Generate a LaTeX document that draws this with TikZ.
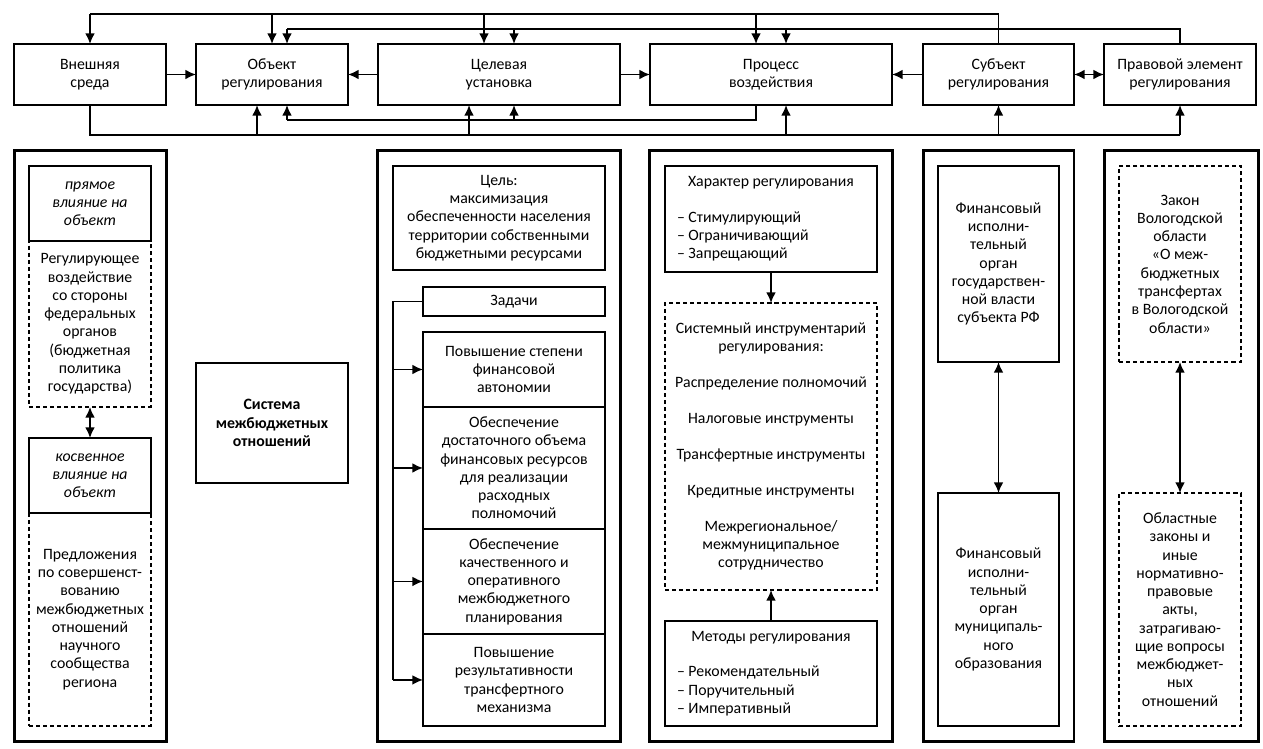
\documentclass[tikz,border=0pt]{standalone}
\usepackage{fontspec}
\setmainfont{Carlito}
\usetikzlibrary{arrows.meta}
\usetikzlibrary{positioning}

\tikzset{
  box/.style={draw, line width=0.85pt, align=center, inner sep=2pt, outer sep=0pt},
  topbox/.style={box, line width=0.9pt, minimum height=1.22cm},
  dbox/.style={box, dash pattern=on 2.3pt off 1.7pt},
  panel/.style={draw, line width=1.7pt, minimum height=11.84cm, outer sep=0pt},
  conn/.style={line width=1pt},
  arr/.style={conn, -{Latex[length=6pt,width=5.5pt]}},
  dblarr/.style={conn, {Latex[length=6pt,width=5.5pt]}-{Latex[length=6pt,width=5.5pt]}},
}
\newcommand{\litem}[1]{\makebox[3.76cm][l]{#1}}

\begin{document}
\begin{tikzpicture}[x=0.02cm, y=-0.02cm, font=\fontsize{9}{10.4}\selectfont]
    \useasboundingbox (0,0) rectangle (1263,749);

    % upper row
    \node[topbox, minimum width=3.04cm] (vnesh) at (90,74.5) {Внешняя\\среда};
    \node[topbox, minimum width=3.04cm] (obj) at (272,74.5) {Объект\\регулирования};
    \node[topbox, minimum width=4.84cm] (cel) at (499,74.5) {Целевая\\установка};
    \node[topbox, minimum width=4.84cm] (proc) at (771,74.5) {Процесс\\воздействия};
    \node[topbox, minimum width=3.02cm] (subj) at (998.5,74.5) {Субъект\\регулирования};
    \node[topbox, minimum width=3.04cm] (prav) at (1180,74.5) {Правовой элемент\\регулирования};

    \draw[arr] (vnesh) -- (obj);
    \draw[arr] (cel) -- (obj);
    \draw[arr] (cel) -- (proc);
    \draw[arr] (subj) -- (proc);
    \draw[dblarr] (subj) -- (prav);

    % feedback lines
    \coordinate (l1) at (0,14);
    \coordinate (l2) at (0,29);
    \coordinate (l3) at (0,120);
    \coordinate (l4) at (0,135);

    \draw[conn] (subj.north) -- (subj.north |- l1) -- (vnesh.north |- l1);
    \foreach \n/\s in {vnesh/0, obj/0, cel/-0.3, proc/-0.3}
        \draw[arr] ([xshift=\s cm]\n.north) ++(0,-30) -- ([xshift=\s cm]\n.north);

    \draw[conn] (prav.north) -- (prav.north |- l2) -- ([xshift=0.3cm]obj.north |- l2);
    \foreach \n in {obj, cel, proc}
        \draw[arr] ([xshift=0.3cm]\n.north) ++(0,-15) -- ([xshift=0.3cm]\n.north);

    \draw[conn] ([xshift=-0.3cm]proc.south) -- ([xshift=-0.3cm]proc.south |- l3) -- ([xshift=0.3cm]obj.south |- l3);
    \foreach \n in {obj, cel}
        \draw[arr] ([xshift=0.3cm]\n.south) ++(0,15) -- ([xshift=0.3cm]\n.south);

    \draw[conn] (vnesh.south) -- (vnesh.south |- l4) -- (prav.south |- l4);
    \foreach \n/\s in {obj/-0.3, cel/-0.6, proc/0.3, subj/0, prav/0}
        \draw[arr] ([xshift=\s cm]\n.south) ++(0,30) -- ([xshift=\s cm]\n.south);

    % panels
    \node[panel, minimum width=3.06cm] (p1) at (90.5,446) {};
    \node[panel, minimum width=4.88cm] (p2) at (499,446) {};
    \node[panel, minimum width=4.88cm] (p3) at (771,446) {};
    \node[panel, minimum width=3.02cm] (p4) at (998.5,446) {};
    \node[panel, minimum width=3.08cm] (p5) at (1181,446) {};

    % panel 1
    \node[box, minimum width=2.44cm, minimum height=1.5cm, font=\fontsize{9}{10.4}\selectfont\itshape] (pryam) at (90,203.5) {прямое\\влияние на\\объект};
    \node[dbox, minimum width=2.44cm, minimum height=3.32cm, below=0pt of pryam] (reg) {Регулирующее\\воздействие\\со стороны\\федеральных\\органов\\(бюджетная\\политика\\государства)};
    \node[box, minimum width=2.44cm, minimum height=1.5cm, font=\fontsize{9}{10.4}\selectfont\itshape] (kos) at (90,475.5) {косвенное\\влияние на\\объект};
    \node[dbox, minimum width=2.44cm, minimum height=4.26cm, below=0pt of kos] (pred) {Предложения\\по совершенст-\\вованию\\межбюджетных\\отношений\\научного\\сообщества\\региона};
    \draw[dblarr] (reg) -- (kos);

    \node[box, line width=1pt, minimum width=3.04cm, minimum height=2.4cm, font=\fontsize{9}{10.4}\selectfont\bfseries] (sist) at (272,423) {Система\\межбюджетных\\отношений};

    % panel 2
    \node[box, minimum width=4.24cm, minimum height=2.08cm] (goal) at (499,218) {Цель:\\максимизация\\обеспеченности населения\\территории собственными\\бюджетными ресурсами};
    \node[box, minimum width=3.64cm, minimum height=0.58cm] (zad) at (514,301.5) {Задачи};
    \node[box, minimum width=3.64cm, minimum height=1.5cm] (t1) at (514,369.5) {Повышение степени\\финансовой\\автономии};
    \node[box, minimum width=3.64cm, minimum height=2.44cm, below=0pt of t1] (t2) {Обеспечение\\достаточного объема\\финансовых ресурсов\\для реализации\\расходных\\полномочий};
    \node[box, minimum width=3.64cm, minimum height=2.1cm, below=0pt of t2] (t3) {Обеспечение\\качественного и\\оперативного\\межбюджетного\\планирования};
    \node[box, minimum width=3.64cm, minimum height=1.84cm, below=0pt of t3] (t4) {Повышение\\результативности\\трансфертного\\механизма};
    \coordinate (zx) at (393,0);
    \draw[conn] (zad.west) -- (zad.west -| zx) -- (t4.west -| zx);
    \foreach \t in {t1, t2, t3, t4}
        \draw[arr] (\t.west -| zx) -- (\t.west);

    % panel 3
    \node[box, minimum width=4.24cm, minimum height=2.12cm] (har) at (771,219)
        {Характер регулирования\\[10pt]\litem{– Стимулирующий}\\\litem{– Ограничивающий}\\\litem{– Запрещающий}};
    \node[dbox, minimum width=4.24cm, minimum height=5.74cm] (sys) at (771,446.5)
        {Системный инструментарий\\регулирования:\\[10pt]Распределение полномочий\\[10pt]Налоговые инструменты\\[10pt]Трансфертные инструменты\\[10pt]Кредитные инструменты\\[10pt]Межрегиональное/\\межмуниципальное\\сотрудничество};
    \node[box, minimum width=4.24cm, minimum height=2.1cm] (met) at (771,673.5)
        {Методы регулирования\\[10pt]\litem{– Рекомендательный}\\\litem{– Поручительный}\\\litem{– Императивный}};
    \draw[arr] (har) -- (sys);
    \draw[arr] (met) -- (sys);

    % panel 4
    \node[box, minimum width=2.42cm, minimum height=3.92cm] (fin1) at (998.5,264) {Финансовый\\исполни-\\тельный\\орган\\государствен-\\ной власти\\субъекта РФ};
    \node[box, minimum width=2.42cm, minimum height=4.66cm] (fin2) at (998.5,609.5) {Финансовый\\исполни-\\тельный\\орган\\муниципаль-\\ного\\образования};
    \draw[dblarr] (fin1) -- (fin2);

    % panel 5
    \node[dbox, minimum width=2.44cm, minimum height=3.92cm] (zak) at (1180,264) {Закон\\Вологодской\\области\\«О меж-\\бюджетных\\трансфертах\\в Вологодской\\области»};
    \node[dbox, minimum width=2.44cm, minimum height=4.66cm] (obl) at (1180,609.5) {Областные\\законы и\\иные\\нормативно-\\правовые\\акты,\\затрагиваю-\\щие вопросы\\межбюджет-\\ных\\отношений};
    \draw[dblarr] (zak) -- (obl);
\end{tikzpicture}
\end{document}
